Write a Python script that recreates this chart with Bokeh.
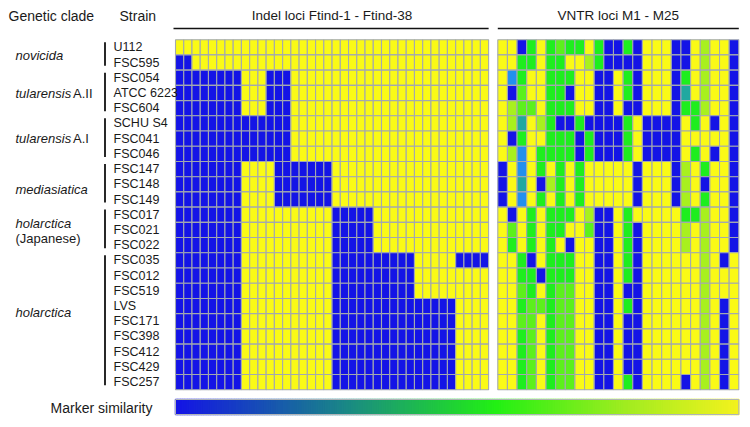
import numpy as np
from bokeh.plotting import figure
from bokeh.models import ColumnDataSource, Range1d
from bokeh.core.properties import value
from bokeh.embed import file_html
from bokeh.resources import INLINE

# ---------------- data ----------------
strains = ["U112", "FSC595", "FSC054", "ATCC 6223", "FSC604", "SCHU S4", "FSC041",
           "FSC046", "FSC147", "FSC148", "FSC149", "FSC017", "FSC021", "FSC022",
           "FSC035", "FSC012", "FSC519", "LVS", "FSC171", "FSC398", "FSC412",
           "FSC429", "FSC257"]

clade_names = ["novicida", "tularensis", "tularensis", "mediasiatica", "holarctica", "holarctica"]
clade_suffix = ["", "A.II", "A.I", "", "", ""]
clade_line2 = ["", "", "", "", "(Japanese)", ""]
clade_first = [0, 2, 5, 8, 11, 14]
clade_last = [1, 4, 7, 10, 13, 22]
clade_label_row = [1.05, 3.55, 6.5, 9.85, 12.55, 17.9]

# Indel loci Ftind-1 .. Ftind-38 : B = different (blue), Y = same (yellow)
indel = [
    "YYYYYYYYYYYYYYYYYYYYYYYYYYYYYYYYYYYYYY",  # U112
    "BBYYYYYYYYYYYYYYYYYYYYYYYYYYYYYYYYYYYY",  # FSC595
    "BBBBBBBBYYYBBBYYYYYYYYYYYYYYYYYYYYYYYY",  # FSC054
    "BBBBBBBBYYYBBBYYYYYYYYYYYYYYYYYYYYYYYY",  # ATCC 6223
    "BBBBBBBBYYYBBBYYYYYYYYYYYYYYYYYYYYYYYY",  # FSC604
    "BBBBBBBBBBBBBBYYYYYYYYYYYYYYYYYYYYYYYY",  # SCHU S4
    "BBBBBBBBBBBBBBYYYYYYYYYYYYYYYYYYYYYYYY",  # FSC041
    "BBBBBBBBBBBBBBYYYYYYYYYYYYYYYYYYYYYYYY",  # FSC046
    "BBBBBBBBYYYYBBBBBBBYYYYYYYYYYYYYYYYYYY",  # FSC147
    "BBBBBBBBYYYYBBBBBBBYYYYYYYYYYYYYYYYYYY",  # FSC148
    "BBBBBBBBYYYYBBBBBBBYYYYYYYYYYYYYYYYYYY",  # FSC149
    "BBBBBBBBYYYYYYYYYYYBBBBBYYYYYYYYYYYYYY",  # FSC017
    "BBBBBBBBYYYYYYYYYYYBBBBBYYYYYYYYYYYYYY",  # FSC021
    "BBBBBBBBYYYYYYYYYYYBBBBBYYYYYYYYYYYYYY",  # FSC022
    "BBBBBBBBYYYYYYYYYYYBBBBBBBBBBYYYYYBBBB",  # FSC035
    "BBBBBBBBYYYYYYYYYYYBBBBBBBBBBYYYYYYYYY",  # FSC012
    "BBBBBBBBYYYYYYYYYYYBBBBBBBBBBYYYYYYYYY",  # FSC519
    "BBBBBBBBYYYYYYYYYYYBBBBBBBBBBBBBBBYYYY",  # LVS
    "BBBBBBBBYYYYYYYYYYYBBBBBBBBBBBBBBBYYYY",  # FSC171
    "BBBBBBBBYYYYYYYYYYYBBBBBBBBBBBBBBBYYYY",  # FSC398
    "BBBBBBBBYYYYYYYYYYYBBBBBBBBBBBBBBBYYYY",  # FSC412
    "BBBBBBBBYYYYYYYYYYYBBBBBBBBBBBBBBBYYYY",  # FSC429
    "BBBBBBBBYYYYYYYYYYYBBBBBBBBBBBBBBBYYYY",  # FSC257
]

# VNTR loci M1 .. M25 : similarity classes
# B blue(0) A azure T teal G green L light green V yellow-green Y yellow(1)
vntr = [
    "YYBGYGLGGYGBBGBYYYBBYVYYB",  # U112
    "YYGGYGGYYVGBBBBYYYBBYVYYB",  # FSC595
    "YAGYYGGGYYBBYGBYYYBGYVYYB",  # FSC054
    "YBLYYGGBYYBBYGBYYYBTYVYYB",  # ATCC 6223
    "YVLLYGGGYYBBYBBYYYBGGVYYB",  # FSC604
    "YVTYVGBBGBBBBGYBBBBYGYBYB",  # SCHU S4
    "YBGYYGGGBGBBBGYBBBBYYYYYB",  # FSC041
    "YVAYGGGGBGBBBGYBBBBYGYBYB",  # FSC046
    "BYAYGYGYGYYYYYBYYYBVYGYYB",  # FSC147
    "BYTYBVGYGYYYYYBYYYBVYBYYB",  # FSC148
    "BYAYGYGYGYYYYYBYYYBVYGYYB",  # FSC149
    "YBYGYGGGYVBBYGYYYYYGGVYYB",  # FSC017
    "YLYGYGGYYLBBYGBYYYYVYVYYB",  # FSC021
    "YGYGYGYBYYBBYGBYYYYVYVYYB",  # FSC022
    "YYGBYGGGYYBBYGBYYYYYYVYBY",  # FSC035
    "YYGGBGGGYYBBYGBYYYYYYVYYY",  # FSC012
    "YYLGYGLLYYBBYBBYYYYYYVYYY",  # FSC519
    "YYGLLGLLYYBBYGBYYYYYYVYBY",  # LVS
    "YYLLYGLLYYBBYBBYYYYYYVYBY",  # FSC171
    "YYGLYGLLYYBBYBBYYYYYYVYBY",  # FSC398
    "YYGLYGLLYYBBYBBYYYYYYVYBY",  # FSC412
    "YYGLYGLLYYBBYBBYYYYYYVYBY",  # FSC429
    "YYGLYGLLYYBBYGBYYYYBYVYBY",  # FSC257
]

colors = {"B": "#1414e6", "A": "#2290ee", "T": "#20a8a0", "G": "#1eee1e",
          "L": "#5cf01c", "V": "#a8f01e", "Y": "#fafa16"}

# gradient stops of the "Marker similarity" scale
grad_pos = [0.0, 0.3, 0.57, 0.8, 1.0]
grad_col = [(20, 20, 230), (26, 135, 135), (34, 240, 20), (160, 236, 32), (242, 242, 30)]

# ---------------- layout (reference pixel frame) ----------------
W, H = 750, 427
GRID_TOP = 39.2
ROW_H = 15.22
IND_X0, IND_W = 175.0, 8.24
VN_X0, VN_W = 497.3, 9.64
FONT = value("Liberation Sans")
TXT = "#1a1a1a"

p = figure(width=W, height=H, x_range=Range1d(0, W), y_range=Range1d(H, 0),
           output_backend="svg", toolbar_location=None, min_border=0,
           x_axis_location=None, y_axis_location=None, outline_line_color=None)
p.grid.visible = False
p.background_fill_color = "white"
p.border_fill_color = "white"


def cells(matrix, x0, w):
    L, R, T, B, C = [], [], [], [], []
    for r, s in enumerate(matrix):
        for c, ch in enumerate(s):
            L.append(x0 + c * w)
            R.append(x0 + (c + 1) * w)
            T.append(GRID_TOP + r * ROW_H)
            B.append(GRID_TOP + (r + 1) * ROW_H)
            C.append(colors[ch])
    return ColumnDataSource(dict(left=L, right=R, top=T, bottom=B, color=C))


for mat, x0, w in [(indel, IND_X0, IND_W), (vntr, VN_X0, VN_W)]:
    p.quad(left="left", right="right", top="top", bottom="bottom", source=cells(mat, x0, w),
           fill_color="color", line_color="#a3a9ae", line_width=1.1)

# header lines + titles
n_ind = len(indel[0])
n_vn = len(vntr[0])
p.segment(x0=[IND_X0 - 2, VN_X0], x1=[IND_X0 + n_ind * IND_W, VN_X0 + n_vn * VN_W],
          y0=[28, 28], y1=[28, 28], line_color="#111111", line_width=1.6)
p.text(x=[IND_X0 + n_ind * IND_W / 2, VN_X0 + n_vn * VN_W / 2], y=[14.5, 14.5],
       text=["Indel loci Ftind-1 - Ftind-38", "VNTR loci M1 - M25"],
       text_align="center", text_baseline="middle", text_font=FONT,
       text_font_size="13.5px", text_color=TXT)
p.text(x=[8, 119], y=[15.5, 15.5], text=["Genetic clade", "Strain"],
       text_align="left", text_baseline="middle", text_font=FONT,
       text_font_size="14px", text_color=TXT)

# strain labels
p.text(x=[113] * len(strains), y=[GRID_TOP + (i + 0.5) * ROW_H for i in range(len(strains))],
       text=strains, text_align="left", text_baseline="middle", text_font=FONT,
       text_font_size="12.5px", text_color=TXT)

# clade brackets
p.segment(x0=[104.5] * 6, x1=[104.5] * 6,
          y0=[GRID_TOP + f * ROW_H + 2.5 for f in clade_first],
          y1=[GRID_TOP + (l + 1) * ROW_H - 4.5 for l in clade_last],
          line_color="#111111", line_width=1.8)

# clade labels
ys, names, sx, sy, stext, l2y, l2t = [], [], [], [], [], [], []
for name, suf, line2, row in zip(clade_names, clade_suffix, clade_line2, clade_label_row):
    y = GRID_TOP + row * ROW_H
    if line2:
        ys.append(y - 7.5)
        l2y.append(y + 7.5)
        l2t.append(line2)
    else:
        ys.append(y)
    names.append(name)
    if suf:
        sx.append(15 + 57.5)
        sy.append(y)
        stext.append(suf)
p.text(x=[15] * len(names), y=ys, text=names, text_align="left", text_baseline="middle",
       text_font=FONT, text_font_size="13px", text_font_style="italic", text_color=TXT)
p.text(x=sx, y=sy, text=stext, text_align="left", text_baseline="middle",
       text_font=FONT, text_font_size="13px", text_color=TXT)
p.text(x=[15] * len(l2t), y=l2y, text=l2t, text_align="left", text_baseline="middle",
       text_font=FONT, text_font_size="13px", text_color=TXT)

# colour scale bar
CB_X0, CB_X1, CB_T, CB_B = 175.0, 738.3, 399.0, 414.0
N = 240
t = np.linspace(0, 1, N)
rgb = np.stack([np.interp(t, grad_pos, [c[k] for c in grad_col]) for k in range(3)], axis=1)
cb_cols = ["#%02x%02x%02x" % tuple(int(round(v)) for v in row) for row in rgb]
edges = np.linspace(CB_X0, CB_X1, N + 1)
p.quad(left=edges[:-1], right=edges[1:], top=[CB_T] * N, bottom=[CB_B] * N,
       fill_color=cb_cols, line_color=cb_cols, line_width=1.5)
p.quad(left=[CB_X0], right=[CB_X1], top=[CB_T], bottom=[CB_B], fill_color=None,
       line_color="#b0b4b8", line_width=1)
p.text(x=[152], y=[407], text=["Marker similarity"], text_align="right",
       text_baseline="middle", text_font=FONT, text_font_size="14px", text_color=TXT)

open("out.html", "w").write(file_html(p, INLINE))
